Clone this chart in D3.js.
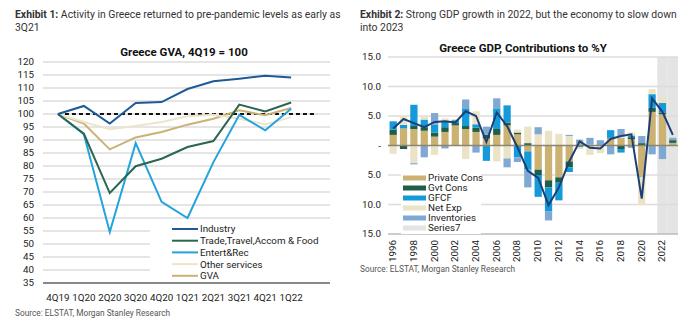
<!DOCTYPE html>
<html>
<head>
<meta charset="utf-8">
<script src="https://cdn.jsdelivr.net/npm/d3@7"></script>
<style>
  html, body { margin: 0; padding: 0; background: #fff; }
  svg { display: block; font-family: Roboto, "Noto Sans", sans-serif; }
  .hdr { font-size: 10.4px; fill: #333; }
  .src { font-size: 8.3px; fill: #555; }
  .ttl { font-size: 11.5px; font-weight: bold; fill: #111; }
  .tick { font-size: 9.8px; fill: #222; }
</style>
</head>
<body>
<svg id="chart" width="700" height="324"></svg>
<script>
// ---- Exhibit 1: Greece GVA by sector, 4Q19 = 100
const quarters = ['4Q19', '1Q20', '2Q20', '3Q20', '4Q20', '1Q21', '2Q21', '3Q21', '4Q21', '1Q22', ''];
const industry = [100, 103.1, 96.3, 104.2, 104.6, 109.6, 112.6, 113.6, 114.7, 114.0];
const tradeTravel = [100, 92.4, 69.6, 79.9, 82.8, 87.3, 89.6, 103.6, 101.0, 104.4];
const entertRec = [100, 92.2, 54.6, 88.8, 66.2, 60.0, 81.5, 99.7, 93.7, 102.0];
const otherServices = [100, 96.9, 94.1, 95.4, 96.9, 99.1, 99.7, 98.2, 96.0, 98.8];
const gva = [100, 96.3, 86.4, 91.0, 93.1, 95.9, 98.2, 101.4, 99.5, 102.3];
const gvaTicks = d3.range(35, 121, 5);

// ---- Exhibit 2: Greece GDP, contributions to %Y
const years = d3.range(1996, 2024);
const privateCons = [1.8, 2.9, 2.8, 2.5, 1.5, 2.3, 3.4, 2.8, 2.3, 1.2, 1.8, 3.4, 1.9, -1.0, -4.1, -5.9, -5.4, -2.7, 0.4, 0.2, 0.0, 1.2, 1.3, 1.1, -5.3, 5.7, 5.3, 0.45];
const gvtCons = [0.9, -0.6, 0.5, 0.6, 0.7, 0.8, 0.4, 0.5, 0.7, 0.6, 1.0, 0.5, 0.3, 0.4, -0.9, -1.2, -0.9, -1.0, -0.1, -0.1, -0.1, 0.1, -0.6, 0.3, 0.4, 0.7, 0.3, 0.45];
const gfcf = [1.4, 0.6, 3.6, 1.3, 1.3, 1.0, 0.5, 3.0, 0.6, -2.6, 3.5, 2.9, -2.0, -3.1, -3.7, -4.1, -3.0, -0.8, -0.2, -0.1, 0.1, 1.3, -0.6, 0.3, -0.1, 2.3, 1.6, 0.0];
const netExp = [-1.4, 1.5, -3.0, 0.5, -1.6, 0.5, 0.2, -2.3, 2.2, 0.0, -2.7, -2.2, 0.5, 2.8, 1.9, 2.5, 2.0, 1.6, -0.3, -1.4, -1.2, 0.0, 0.2, 0.5, -4.7, 0.85, 1.0, 0.0];
const inventories = [0.0, 0.0, -0.2, -2.0, 2.0, -0.5, 0.0, 1.5, -1.2, 1.4, 1.7, -1.5, -0.8, -3.0, 1.2, -1.5, 0.0, 0.2, 0.6, 1.1, 0.8, -1.5, 1.3, -0.4, 1.2, -1.5, -2.3, 0.4];
const gdpGrowth = [2.9, 4.5, 3.8, 3.1, 4.0, 4.1, 3.9, 5.8, 5.0, 0.6, 5.6, 3.3, -0.3, -4.3, -5.5, -10.1, -7.1, -2.7, 0.7, -0.4, -0.5, 1.1, 1.6, 1.9, -9.0, 8.0, 5.7, 1.8];
const series7 = years.map(y => (y >= 2022 ? 1 : 0)); // forecast shading
const gdpTicks = [-15, -10, -5, 0, 5, 10, 15];
const yearLabels = years.filter(y => y % 2 === 0);

const svg = d3.select('#chart');

// headers and sources
function header(x, lines, bold) {
  const t = svg.append('text').attr('class', 'hdr').attr('x', x).attr('y', 18);
  t.append('tspan').attr('font-weight', 'bold').text(bold);
  t.append('tspan').text('  ' + lines[0]);
  svg.append('text').attr('class', 'hdr').attr('x', x).attr('y', 31).text(lines[1]);
}
header(15, ['Activity in Greece returned to pre-pandemic levels as early as', '3Q21'], 'Exhibit 1:');
header(360, ['Strong GDP growth in 2022, but the economy to slow down', 'into 2023'], 'Exhibit 2:');
svg.append('text').attr('class', 'src').attr('x', 15).attr('y', 316).text('Source: ELSTAT, Morgan Stanley Research');
svg.append('text').attr('class', 'src').attr('x', 360).attr('y', 272).text('Source: ELSTAT, Morgan Stanley Research');

// ===================== chart 1 =====================
const g1 = svg.append('g');
const x1 = d3.scaleBand().domain(quarters.map((q, i) => i)).range([45, 330]);
const y1 = d3.scaleLinear().domain([35, 120]).range([283, 62]);

g1.append('text').attr('class', 'ttl').attr('x', 184).attr('y', 56)
  .attr('text-anchor', 'middle').text('Greece GVA, 4Q19 = 100');

g1.selectAll('.grid').data(gvaTicks.filter(v => v > 35)).join('line')
  .attr('x1', 43).attr('x2', 330)
  .attr('y1', d => y1(d)).attr('y2', d => y1(d))
  .attr('stroke', '#dcdcdc').attr('stroke-width', 1.5);

g1.selectAll('.ylab').data(gvaTicks).join('text')
  .attr('class', 'tick').attr('x', 34).attr('y', d => y1(d))
  .attr('dy', '0.35em').attr('text-anchor', 'end').text(d => d);

g1.selectAll('.xlab').data(quarters).join('text')
  .attr('class', 'tick').attr('x', (d, i) => x1(i) + x1.bandwidth() / 2)
  .attr('y', 301).attr('text-anchor', 'middle').text(d => d);

// 100 reference line over all categories
g1.append('line')
  .attr('x1', x1(0) + x1.bandwidth() / 2).attr('x2', x1(10) + x1.bandwidth() / 2)
  .attr('y1', y1(100)).attr('y2', y1(100))
  .attr('stroke', '#111').attr('stroke-width', 2).attr('stroke-dasharray', '4,3');

const gvaSeries = [
  { name: 'Industry', values: industry, color: '#1d5a96' },
  { name: 'Trade,Travel,Accom & Food', values: tradeTravel, color: '#2b6650' },
  { name: 'Entert&Rec', values: entertRec, color: '#22a3dc' },
  { name: 'Other services', values: otherServices, color: '#ece5cc' },
  { name: 'GVA', values: gva, color: '#cbb273' }
];
const line1 = d3.line().x((d, i) => x1(i) + x1.bandwidth() / 2).y(d => y1(d));

// legend box hides the grid behind it
g1.append('rect').attr('x', 150).attr('y', 221).attr('width', 180).attr('height', 60).attr('fill', '#fff');

gvaSeries.slice().reverse().forEach(s => {
  g1.append('path').datum(s.values).attr('d', line1)
    .attr('fill', 'none').attr('stroke', s.color).attr('stroke-width', 2);
});

g1.append('line').attr('x1', 43).attr('x2', 330).attr('y1', y1(35)).attr('y2', y1(35))
  .attr('stroke', '#888').attr('stroke-width', 2);

const leg1 = g1.selectAll('.leg1').data(gvaSeries).join('g')
  .attr('transform', (d, i) => `translate(172,${229 + i * 11.7})`);
leg1.append('line').attr('x1', 0).attr('x2', 26).attr('stroke', d => d.color).attr('stroke-width', 2);
leg1.append('text').attr('class', 'tick').attr('x', 28).attr('dy', '0.35em').text(d => d.name);

// ===================== chart 2 =====================
const g2 = svg.append('g');
const x2 = d3.scaleBand().domain(years).range([388, 678]).paddingInner(0.3).paddingOuter(0.15);
const y2 = d3.scaleLinear().domain([-15, 15]).range([234, 57]);

g2.append('text').attr('class', 'ttl').attr('x', 523).attr('y', 52)
  .attr('text-anchor', 'middle').text('Greece GDP, Contributions to %Y');

// forecast shading
g2.selectAll('.shade').data(years.filter((y, i) => series7[i]))
  .join('rect')
  .attr('x', d => x2(d) - x2.step() * x2.paddingInner() / 2)
  .attr('width', x2.step())
  .attr('y', y2(15)).attr('height', y2(-15) - y2(15))
  .attr('fill', '#e4e4e4');

g2.selectAll('.grid').data(gdpTicks.filter(v => v !== 0 && v !== -15)).join('line')
  .attr('x1', 388).attr('x2', 678)
  .attr('y1', d => y2(d)).attr('y2', d => y2(d))
  .attr('stroke', '#dcdcdc').attr('stroke-width', 1.5);

g2.selectAll('.ylab').data(gdpTicks).join('text')
  .attr('class', 'tick').attr('x', 381).attr('y', d => y2(d))
  .attr('dy', '0.35em').attr('text-anchor', 'end')
  .attr('fill', d => (d < 0 ? '#c8323c' : '#222'))
  .text(d => (d === 0 ? '-' : Math.abs(d).toFixed(1)));

const compKeys = ['Private Cons', 'Gvt Cons', 'GFCF', 'Net Exp', 'Inventories'];
const compColors = ['#cbb273', '#1f5e47', '#1499d9', '#ebe3c6', '#7fa8d2'];
const compData = years.map((y, i) => ({
  year: y,
  'Private Cons': privateCons[i],
  'Gvt Cons': gvtCons[i],
  'GFCF': gfcf[i],
  'Net Exp': netExp[i],
  'Inventories': inventories[i]
}));
const stacked = d3.stack().keys(compKeys).offset(d3.stackOffsetDiverging)(compData);

g2.selectAll('.layer').data(stacked).join('g')
  .attr('fill', (d, i) => compColors[i])
  .selectAll('rect').data(d => d).join('rect')
  .attr('x', d => x2(d.data.year)).attr('width', x2.bandwidth())
  .attr('y', d => y2(Math.max(d[0], d[1])))
  .attr('height', d => Math.abs(y2(d[0]) - y2(d[1])));

g2.append('line').attr('x1', 388).attr('x2', 678).attr('y1', y2(0)).attr('y2', y2(0))
  .attr('stroke', '#8a8574').attr('stroke-width', 1.5);

const line2 = d3.line().x((d, i) => x2(years[i]) + x2.bandwidth() / 2).y(d => y2(d));
g2.append('path').datum(gdpGrowth).attr('d', line2)
  .attr('fill', 'none').attr('stroke', '#1c3f74').attr('stroke-width', 2);

g2.append('line').attr('x1', 388).attr('x2', 678).attr('y1', y2(-15)).attr('y2', y2(-15))
  .attr('stroke', '#bbb').attr('stroke-width', 1.5);

g2.selectAll('.xlab').data(yearLabels).join('text')
  .attr('class', 'tick')
  .attr('transform', d => `translate(${x2(d) + x2.bandwidth() / 2 + 3},240) rotate(-90)`)
  .attr('text-anchor', 'end').text(d => d);

// legend
g2.append('rect').attr('x', 401).attr('y', 171).attr('width', 80).attr('height', 63).attr('fill', '#fff');
const legKeys = compKeys.concat(['Series7']);
const legColors = compColors.concat(['#e4e4e4']);
const leg2 = g2.selectAll('.leg2').data(legKeys).join('g')
  .attr('transform', (d, i) => `translate(403,${178 + i * 10})`);
leg2.append('rect').attr('y', -2.5).attr('width', 23).attr('height', 5).attr('fill', (d, i) => legColors[i]);
leg2.append('text').attr('class', 'tick').attr('x', 25).attr('dy', '0.35em').text(d => d);
</script>
</body>
</html>
